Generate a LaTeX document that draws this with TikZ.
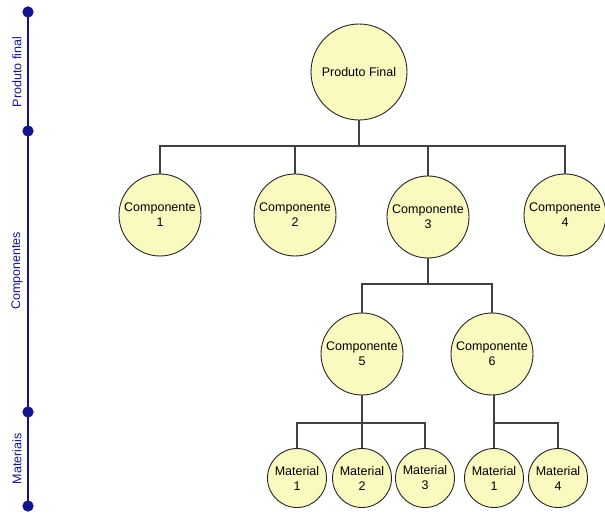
\documentclass[tikz,border=0pt]{standalone}
\usepackage{fontspec}
\setmainfont{Liberation Sans}
\begin{document}
\begin{tikzpicture}[x=1pt,y=-1pt,
  bubble/.style={circle, draw=black!85, line width=0.9pt, fill=paleyellow, inner sep=0pt, align=center, font=\fontsize{12.5}{15}\selectfont},
  big/.style={bubble, minimum size=96pt},
  comp/.style={bubble, minimum size=82pt},
  mat/.style={bubble, minimum size=59pt},
  link/.style={draw=black!75, line width=1.1pt},
  axis/.style={draw=navyaxis, line width=1.8pt},
  dot/.style={circle, fill=navyaxis, inner sep=0pt, minimum size=11pt},
  level/.style={rotate=90, text=navyaxis, font=\fontsize{12.5}{14}\selectfont, inner sep=0pt}]
\definecolor{paleyellow}{RGB}{250,250,192}
\definecolor{navyaxis}{RGB}{20,20,140}
\useasboundingbox (0,0) rectangle (605,518);

% level axis on the left
\node[dot] (d0) at (28,12) {};
\node[dot] (d1) at (28,131) {};
\node[dot] (d2) at (28,412) {};
\node[dot] (d3) at (28,506) {};
\path[axis] (d0.center) -- (d1.center) -- (d2.center) -- (d3.center);
\node[dot] at (d0) {};
\node[dot] at (d1) {};
\node[dot] at (d2) {};
\node[dot] at (d3) {};
\node[level] (l0) at (17,72) {Produto final};
\node[level] (l1) at (17,271) {Componentes};
\node[level] (l2) at (17,459) {Materiais};

% tree nodes
\node[big] (pf) at (359,72) {Produto Final};
\node[comp] (c1) at (160,215) {Componente\\1};
\node[comp] (c2) at (295,215) {Componente\\2};
\node[comp] (c3) at (428,217) {Componente\\3};
\node[comp] (c4) at (565,215) {Componente\\4};
\node[comp] (c5) at (362,354) {Componente\\5};
\node[comp] (c6) at (492,354) {Componente\\6};
\node[mat] (m1) at (297,478) {Material\\1};
\node[mat] (m2) at (362,478) {Material\\2};
\node[mat] (m3) at (425,478) {Material\\3};
\node[mat] (m4) at (494,478) {Material\\1};
\node[mat] (m5) at (558,478) {Material\\4};

% bar heights
\coordinate (b0) at (0,146);
\coordinate (b1) at (0,284);
\coordinate (b2) at (0,423);

% connectors
\foreach \c in {c1,c2,c3,c4}
  \path[link] (pf.south) |- (b0 -| \c) -- (\c.north);
\foreach \c in {c5,c6}
  \path[link] (c3.south) |- (b1 -| \c) -- (\c.north);
\foreach \m in {m1,m2,m3}
  \path[link] (c5.south) |- (b2 -| \m) -- (\m.north);
\foreach \m in {m4,m5}
  \path[link] ([xshift=2pt]c6.south) |- (b2 -| \m) -- (\m.north);
\end{tikzpicture}
\end{document}
